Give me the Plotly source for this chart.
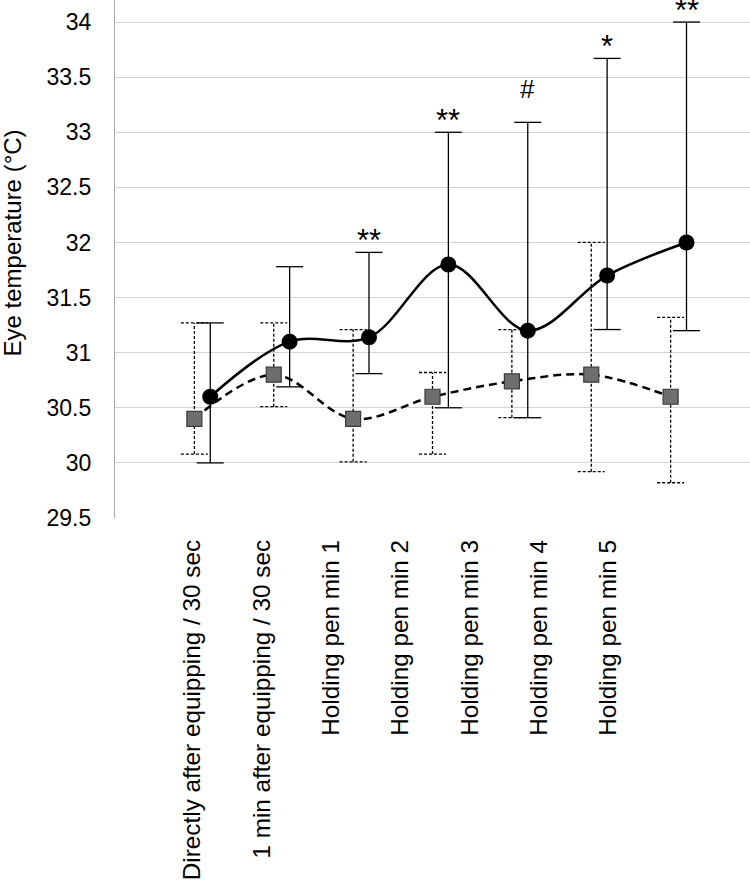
import plotly.graph_objects as go

categories = [
    "Directly after equipping / 30 sec",
    "1 min after equipping / 30 sec",
    "Holding pen min 1",
    "Holding pen min 2",
    "Holding pen min 3",
    "Holding pen min 4",
    "Holding pen min 5",
]
circle_mean = [30.6, 31.1, 31.14, 31.8, 31.2, 31.7, 32.0]
circle_upper = [31.27, 31.78, 31.91, 33.0, 33.09, 33.67, 34.0]
circle_lower = [30.0, 30.69, 30.81, 30.5, 30.41, 31.21, 31.2]
square_mean = [30.4, 30.8, 30.4, 30.6, 30.74, 30.8, 30.6]
square_upper = [31.27, 31.27, 31.21, 30.82, 31.21, 32.0, 31.32]
square_lower = [30.08, 30.51, 30.01, 30.08, 30.41, 29.92, 29.82]
significance = ["", "", "**", "**", "#", "*", "**"]
y_ticks = [29.5, 30, 30.5, 31, 31.5, 32, 32.5, 33, 33.5, 34]
y_title = "Eye temperature (°C)"

FONT = "Liberation Sans, Arial, sans-serif"
idx = list(range(len(categories)))
OFF = 0.1
cx = [i + OFF for i in idx]
sx = [i - OFF for i in idx]
tick_pos = [-0.126 + 0.874 * i for i in idx]
CAP = 0.17


def errbars(xs, lo, hi, dash, name):
    X, Y = [], []
    for x, l, h in zip(xs, lo, hi):
        X += [x, x, None, x - CAP, x + CAP, None, x - CAP, x + CAP, None]
        Y += [l, h, None, h, h, None, l, l, None]
    return go.Scatter(x=X, y=Y, mode="lines", name=name, showlegend=False,
                      line=dict(color="black", width=1.3, dash=dash),
                      hoverinfo="skip", cliponaxis=False)


fig = go.Figure()
fig.add_trace(errbars(sx, square_lower, square_upper, "3px,2px", "sq_err"))
fig.add_trace(errbars(cx, circle_lower, circle_upper, "solid", "ci_err"))
fig.add_trace(go.Scatter(
    x=sx, y=square_mean, mode="lines+markers", name="Group 2", showlegend=False,
    line=dict(color="black", width=2.5, dash="8px,5px", shape="spline", smoothing=1),
    marker=dict(symbol="square", size=15, color="#6e6e6e",
                line=dict(color="#3a3a3a", width=1.2)),
    cliponaxis=False))
fig.add_trace(go.Scatter(
    x=cx, y=circle_mean, mode="lines+markers", name="Group 1", showlegend=False,
    line=dict(color="black", width=2.5, shape="spline", smoothing=1),
    marker=dict(symbol="circle", size=16, color="black"),
    cliponaxis=False))

for x, h, s in zip(cx, circle_upper, significance):
    if s:
        fig.add_annotation(x=x, y=h, text=s, showarrow=False, xanchor="center",
                           yanchor="bottom", yshift=(16 if s == "#" else -8),
                           font=dict(family=FONT, size=(26 if s == "#" else 31), color="black"))

fig.add_annotation(xref="paper", yref="paper", x=-0.1614, y=0.531, text=y_title,
                   textangle=-90, showarrow=False, xanchor="center", yanchor="middle",
                   font=dict(family=FONT, size=24, color="black"))

fig.update_layout(
    width=750, height=885,
    margin=dict(l=115, r=0, t=0, b=367),
    paper_bgcolor="white", plot_bgcolor="white",
    font=dict(family=FONT, color="black"),
    showlegend=False,
)
fig.update_xaxes(
    range=[-1.1, 6.9], tickmode="array", tickvals=tick_pos, ticktext=categories,
    tickangle=-90, tickfont=dict(family=FONT, size=24.3, color="black"),
    showgrid=False, zeroline=False, showline=False, ticks="",
    ticklabelstandoff=16, automargin=False,
)
fig.update_yaxes(
    range=[29.5, 34.2], tickmode="array", tickvals=y_ticks,
    ticktext=[f"{v:g}" for v in y_ticks],
    tickfont=dict(family=FONT, size=23, color="black"),
    showgrid=True, gridcolor="#d4d4d4", gridwidth=1.2,
    zeroline=False, showline=True, linecolor="#a8a8a8", linewidth=1.3,
    ticks="", ticklabelstandoff=18, automargin=False,
)

fig.write_html("out.html", config={"displayModeBar": False},
               post_script="document.body.style.margin='0px';document.body.style.overflow='hidden';")
